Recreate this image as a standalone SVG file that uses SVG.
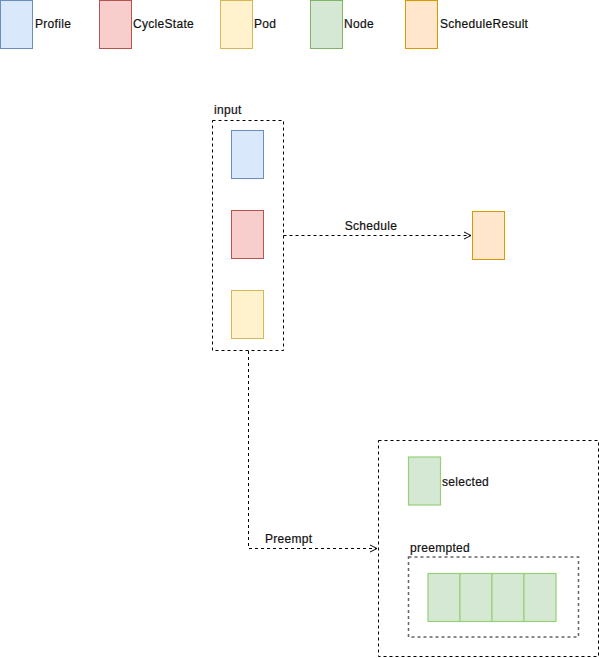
<svg xmlns="http://www.w3.org/2000/svg" width="599" height="658" viewBox="0 0 599 658">
  <style>
    text { font-family: "Liberation Sans", Arial, sans-serif; font-size: 12px; fill: #111; letter-spacing: 0.3px; stroke: #111; stroke-width: 0.2px; }
    .blue { fill: #dae8fc; stroke: #6c8ebf; }
    .red { fill: #f8cecc; stroke: #b85450; }
    .yellow { fill: #fff2cc; stroke: #d6b656; }
    .green { fill: #d5e8d4; stroke: #82b366; }
    .lgreen { fill: #d5e8d4; stroke: #97d077; stroke-width: 1.2; }
    .orange { fill: #ffe6cc; stroke: #d79b00; }
    .group { fill: none; stroke: #000; stroke-dasharray: 3 3; }
    .subgroup { fill: none; stroke: #666; stroke-width: 1.5; stroke-dasharray: 3 3; }
    .edge { fill: none; stroke: #000; stroke-dasharray: 3 3; }
  </style>
  <defs>
    <marker id="open" markerWidth="10" markerHeight="10" refX="8" refY="5" orient="auto" markerUnits="userSpaceOnUse">
      <path d="M1,1.5 L8,5 L1,8.5" fill="none" stroke="#000"/>
    </marker>
  </defs>

  <!-- legend -->
  <g id="legend-profile"><rect class="blue" x="0.5" y="0.5" width="32" height="48"/><text x="35" y="28">Profile</text></g>
  <g id="legend-cyclestate"><rect class="red" x="99.5" y="0.5" width="32" height="48"/><text x="133" y="28">CycleState</text></g>
  <g id="legend-pod"><rect class="yellow" x="220.5" y="0.5" width="32" height="48"/><text x="254" y="28">Pod</text></g>
  <g id="legend-node"><rect class="green" x="310.5" y="0.5" width="32" height="48"/><text x="344" y="28">Node</text></g>
  <g id="legend-result"><rect class="orange" x="405.5" y="0.5" width="32" height="48"/><text x="440" y="28">ScheduleResult</text></g>

  <!-- input group -->
  <g id="input">
    <rect class="group" x="212.5" y="120.5" width="71" height="230"/>
    <text x="214" y="114">input</text>
    <rect class="blue" x="231.5" y="130.5" width="32" height="48"/>
    <rect class="red" x="231.5" y="210.5" width="32" height="48"/>
    <rect class="yellow" x="231.5" y="290.5" width="32" height="48"/>
  </g>

  <!-- schedule result -->
  <g id="result">
    <rect class="orange" x="472.5" y="211.5" width="32" height="48"/>
  </g>

  <!-- preemption result -->
  <g id="preempt-result">
    <rect class="group" x="378.5" y="440.5" width="220" height="216"/>
    <rect class="lgreen" x="408.5" y="457" width="32" height="48"/>
    <text x="442" y="486">selected</text>
    <text x="410" y="552">preempted</text>
    <rect class="subgroup" x="408.5" y="557" width="170" height="80"/>
    <rect class="lgreen" x="428" y="573.5" width="32" height="48"/>
    <rect class="lgreen" x="460" y="573.5" width="32" height="48"/>
    <rect class="lgreen" x="492" y="573.5" width="32" height="48"/>
    <rect class="lgreen" x="524" y="573.5" width="32" height="48"/>
  </g>

  <!-- connectors -->
  <g id="edges">
    <path class="edge" d="M283.5,235.5 H471" marker-end="url(#open)"/>
    <text x="371" y="230" text-anchor="middle">Schedule</text>
    <path class="edge" d="M248.5,351 V548.5 H377" marker-end="url(#open)"/>
    <text x="265" y="543">Preempt</text>
  </g>
</svg>
